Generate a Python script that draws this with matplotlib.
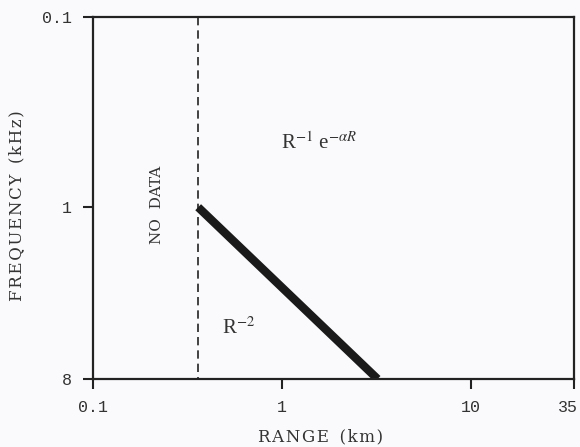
import matplotlib
matplotlib.use("Agg")
import matplotlib.pyplot as plt
from matplotlib.transforms import ScaledTranslation

# Data
x_ticks = [0.1, 1, 10, 35]
x_ticklabels = ["0.1", "1", "10", "35"]
y_ticks = [0.1, 1, 8]
y_ticklabels = ["0.1", "1", "8"]
no_data_range = [0.36, 0.36]
no_data_freq = [0.1, 8]
boundary_range = [0.36, 3.2]
boundary_freq = [1, 8]

TS = "\u200a"


def spaced(s):
    return TS.join(s)


fig = plt.figure(figsize=(5.8, 4.47), dpi=100)
fig.patch.set_facecolor("#fafafc")
ax = fig.add_axes([0.1603, 0.1521, 0.8294, 0.8099])
ax.set_facecolor("#fafafc")
ax.set_xscale("log")
ax.set_yscale("log")
ax.set_xlim(0.1, 35)
ax.set_ylim(8, 0.1)

ax.plot(no_data_range, no_data_freq, color="#222222", lw=1.2, ls=(0, (5, 3)))
ax.plot(boundary_range, boundary_freq, color="#1a1a1a", lw=6, solid_capstyle="butt")

ax.set_xticks(x_ticks)
ax.set_xticklabels(x_ticklabels)
ax.set_yticks(y_ticks)
ax.set_yticklabels(y_ticklabels)
ax.xaxis.set_minor_locator(matplotlib.ticker.NullLocator())
ax.yaxis.set_minor_locator(matplotlib.ticker.NullLocator())
ax.tick_params(direction="out", length=7, width=1.5, color="#222222",
               labelsize=12, labelcolor="#333333", pad=8)
for lab in ax.get_xticklabels() + ax.get_yticklabels():
    lab.set_fontfamily("Liberation Mono")
xl = ax.get_xticklabels()
xl[-1].set_transform(xl[-1].get_transform() + ScaledTranslation(-0.06, 0, fig.dpi_scale_trans))
for s in ax.spines.values():
    s.set_linewidth(1.6)
    s.set_color("#222222")

ax.set_xlabel(spaced("RANGE") + "  " + spaced("(km)"), fontfamily="DejaVu Serif",
              fontsize=12, color="#333333")
ax.xaxis.set_label_coords(0.474, -0.135)
ax.set_ylabel(spaced("FREQUENCY") + "  " + spaced("(kHz)"), fontfamily="DejaVu Serif",
              fontsize=12, color="#333333")
ax.yaxis.set_label_coords(-0.142, 0.48)

ax.text(0.218, 0.97, "NO  DATA", rotation=90, ha="center", va="center",
        fontfamily="DejaVu Serif", fontsize=11, color="#333333")
ax.text(0.99, 0.46, r"R$^{-1}$ e$^{-\alpha R}$", ha="left", va="center",
        fontfamily="Liberation Serif", fontsize=15, color="#333333",
        math_fontfamily="stix")
ax.text(0.48, 4.3, r"R$^{-2}$", ha="left", va="center",
        fontfamily="Liberation Serif", fontsize=15, color="#333333",
        math_fontfamily="stix")

fig.savefig("out.png", dpi=100, facecolor=fig.get_facecolor())
